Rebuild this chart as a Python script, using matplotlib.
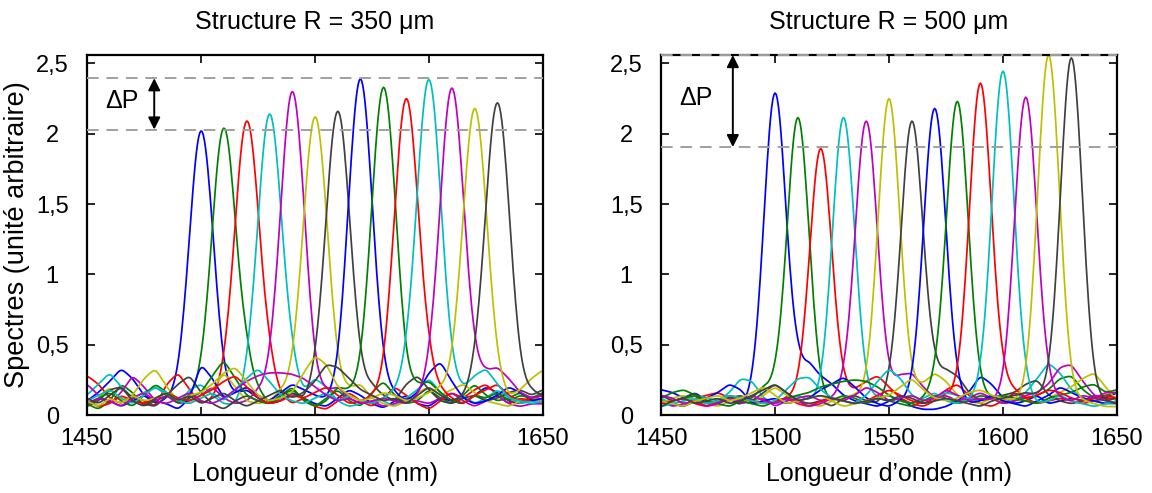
"""
Spectres des structures R = 350 um et R = 500 um, avec l'ecart de puissance dP.
"""

import matplotlib
matplotlib.use("Agg")
import matplotlib.pyplot as plt
import numpy as np

plt.rcParams["font.family"] = ["Liberation Sans", "DejaVu Sans"]

# ---------------------------------------------------------------------------
# Data
# ---------------------------------------------------------------------------

COLORS = ["#0000ff", "#008000", "#ff0000", "#00bfbf", "#bf00bf", "#bfbf00", "#404040"] * 2

PEAK_NM = [1500, 1510, 1520, 1530, 1540, 1550, 1560,
           1570, 1580, 1590, 1600, 1610, 1620, 1630]

PEAKS_350 = [2.02, 2.04, 2.09, 2.14, 2.30, 2.12, 2.16,
             2.39, 2.33, 2.25, 2.385, 2.325, 2.18, 2.22]
PEAKS_500 = [2.29, 2.115, 1.895, 2.115, 2.09, 2.25, 2.09,
             2.18, 2.23, 2.36, 2.445, 2.26, 2.56, 2.54]

# noise floor of each spectrum (hundredths), one value every 5 nm from 1450 to 1650
KNOTS_NM = list(range(1450, 1651, 5))

FLOOR_350 = [
    [10, 16, 24, 33, 26, 14, 8, 10, 6, 4, 10, 12, 8, 14, 18, 12, 8, 10, 16, 12, 8, 6, 12, 18, 14, 8, 5, 10, 14, 8, 6, 12, 10, 8, 14, 20, 16, 10, 8, 12, 10],
    [8, 4, 10, 22, 16, 6, 10, 14, 8, 12, 10, 6, 6, 12, 28, 18, 8, 14, 20, 10, 6, 12, 18, 10, 6, 16, 24, 14, 8, 10, 18, 12, 8, 14, 22, 14, 10, 12, 16, 12, 14],
    [28, 22, 12, 8, 14, 10, 6, 22, 30, 18, 8, 10, 12, 8, 10, 20, 26, 14, 8, 12, 6, 4, 10, 16, 10, 6, 12, 20, 14, 8, 4, 10, 16, 12, 18, 22, 14, 8, 12, 10, 12],
    [14, 22, 30, 20, 12, 16, 20, 14, 8, 18, 22, 14, 8, 6, 10, 8, 12, 18, 24, 16, 26, 20, 10, 6, 8, 14, 10, 6, 12, 18, 26, 16, 10, 14, 8, 12, 18, 12, 8, 10, 8],
    [22, 14, 8, 16, 28, 20, 10, 14, 8, 10, 14, 20, 12, 8, 10, 16, 12, 6, 10, 14, 10, 16, 20, 12, 8, 10, 6, 8, 12, 10, 8, 12, 16, 10, 6, 10, 14, 8, 6, 8, 8],
    [6, 12, 20, 10, 14, 26, 33, 20, 10, 8, 14, 18, 30, 20, 10, 8, 10, 16, 12, 8, 10, 14, 12, 18, 22, 12, 8, 6, 10, 16, 20, 14, 18, 22, 16, 10, 8, 6, 10, 12, 10],
    [6, 10, 18, 20, 12, 8, 6, 14, 22, 28, 16, 8, 4, 10, 14, 10, 8, 12, 16, 10, 12, 8, 6, 10, 14, 20, 14, 10, 22, 28, 18, 10, 8, 12, 14, 10, 12, 16, 18, 14, 18],
    [8, 12, 10, 6, 10, 14, 10, 8, 4, 12, 36, 26, 12, 16, 20, 14, 10, 16, 22, 18, 14, 10, 8, 12, 10, 6, 10, 14, 10, 16, 30, 38, 24, 12, 8, 10, 14, 20, 16, 10, 12],
    [6, 12, 16, 10, 6, 14, 22, 16, 8, 12, 16, 28, 39, 26, 14, 10, 8, 14, 18, 12, 6, 10, 20, 16, 10, 8, 12, 16, 12, 20, 24, 16, 10, 8, 14, 12, 16, 10, 14, 12, 16],
    [10, 6, 8, 14, 10, 8, 12, 16, 12, 10, 14, 18, 24, 28, 20, 12, 8, 10, 14, 12, 16, 20, 14, 8, 10, 12, 8, 10, 14, 18, 24, 18, 12, 8, 14, 18, 22, 14, 10, 12, 14],
    [10, 14, 18, 12, 8, 14, 20, 16, 10, 8, 12, 16, 10, 18, 26, 33, 24, 14, 10, 8, 12, 16, 10, 14, 10, 8, 12, 16, 20, 14, 8, 10, 14, 18, 28, 33, 22, 12, 10, 8, 10],
    [8, 12, 10, 6, 12, 16, 10, 8, 12, 16, 10, 8, 12, 18, 24, 28, 30, 30, 29, 26, 20, 14, 10, 12, 8, 10, 12, 10, 8, 12, 14, 10, 12, 16, 22, 30, 34, 26, 16, 12, 14],
    [10, 6, 12, 8, 14, 10, 12, 16, 10, 14, 16, 22, 30, 34, 24, 14, 10, 12, 16, 30, 42, 36, 20, 14, 10, 12, 16, 14, 10, 12, 16, 18, 14, 12, 18, 20, 16, 12, 18, 26, 32],
    [12, 8, 14, 20, 10, 6, 12, 16, 10, 14, 8, 12, 16, 10, 6, 10, 14, 18, 12, 16, 24, 36, 34, 26, 18, 14, 10, 12, 8, 14, 20, 14, 10, 12, 16, 12, 10, 14, 12, 16, 14],
]

FLOOR_500 = [
    [18, 16, 12, 16, 10, 8, 12, 6, 8, 10, 10, 14, 30, 37, 28, 22, 14, 10, 8, 6, 10, 12, 6, 4, 4, 6, 10, 16, 28, 22, 12, 8, 10, 14, 8, 10, 12, 10, 14, 12, 16],
    [12, 16, 18, 14, 8, 10, 14, 10, 12, 20, 16, 8, 10, 12, 8, 10, 14, 12, 8, 12, 10, 8, 6, 10, 14, 12, 8, 10, 14, 12, 8, 10, 12, 14, 18, 26, 28, 18, 12, 14, 16],
    [10, 8, 6, 12, 14, 16, 12, 10, 8, 10, 8, 12, 10, 8, 10, 12, 14, 18, 24, 28, 20, 12, 8, 6, 10, 18, 22, 14, 8, 6, 10, 16, 12, 8, 10, 12, 10, 8, 10, 12, 12],
    [12, 8, 10, 14, 12, 10, 16, 26, 24, 12, 8, 10, 14, 10, 8, 10, 12, 14, 10, 12, 14, 10, 8, 12, 16, 10, 8, 12, 10, 14, 12, 10, 16, 26, 37, 30, 18, 12, 10, 8, 8],
    [10, 6, 8, 10, 6, 10, 12, 8, 10, 12, 6, 10, 12, 14, 10, 12, 14, 10, 8, 12, 16, 28, 30, 20, 12, 14, 10, 12, 16, 12, 8, 10, 14, 16, 22, 34, 36, 24, 14, 10, 8],
    [8, 12, 14, 10, 8, 6, 10, 12, 8, 14, 20, 14, 10, 8, 6, 10, 12, 14, 10, 12, 16, 12, 14, 22, 30, 24, 14, 10, 8, 12, 10, 12, 10, 8, 12, 16, 20, 26, 30, 20, 10],
    [14, 10, 12, 16, 8, 10, 12, 14, 10, 16, 22, 16, 10, 8, 10, 6, 12, 14, 10, 8, 12, 10, 14, 18, 26, 32, 28, 16, 10, 12, 14, 16, 22, 25, 14, 10, 8, 10, 12, 10, 12],
    [10, 8, 6, 10, 12, 16, 22, 18, 8, 10, 12, 8, 10, 12, 18, 22, 27, 20, 12, 8, 6, 10, 8, 6, 4, 10, 12, 8, 10, 14, 10, 8, 6, 10, 14, 20, 16, 12, 10, 8, 10],
    [8, 10, 12, 14, 10, 8, 6, 10, 8, 6, 10, 12, 14, 16, 20, 22, 24, 25, 24, 20, 14, 10, 8, 12, 16, 12, 10, 8, 10, 12, 14, 12, 10, 8, 12, 14, 16, 20, 22, 16, 18],
    [8, 10, 12, 8, 6, 10, 14, 12, 10, 8, 10, 12, 8, 6, 10, 12, 10, 8, 10, 14, 18, 14, 10, 8, 12, 14, 10, 8, 12, 16, 20, 18, 12, 14, 18, 16, 12, 10, 12, 14, 12],
    [6, 8, 10, 12, 8, 10, 14, 12, 10, 8, 10, 18, 26, 27, 18, 12, 10, 8, 14, 24, 33, 26, 14, 10, 12, 16, 14, 10, 12, 10, 8, 10, 12, 8, 10, 14, 10, 8, 6, 8, 10],
    [14, 12, 8, 10, 6, 8, 12, 10, 14, 10, 8, 12, 10, 6, 8, 12, 10, 14, 20, 16, 10, 12, 14, 10, 12, 18, 14, 10, 12, 10, 8, 12, 10, 12, 14, 12, 10, 14, 12, 16, 16],
    [10, 8, 6, 10, 12, 14, 10, 12, 16, 20, 14, 8, 10, 12, 14, 10, 6, 8, 10, 12, 14, 20, 26, 18, 12, 10, 12, 16, 18, 14, 12, 10, 8, 10, 12, 10, 8, 10, 8, 6, 6],
    [6, 10, 12, 8, 10, 12, 8, 10, 14, 18, 22, 16, 10, 12, 14, 12, 10, 8, 10, 12, 10, 14, 12, 8, 10, 12, 10, 8, 6, 10, 12, 14, 16, 14, 12, 10, 12, 10, 8, 10, 8],
]

# peak width (nm) and the dP markers
SIGMA_350 = 5.3
SIGMA_500 = 4.8
DP_350 = (2.03, 2.395)
DP_500 = (1.905, 2.56)

YTICKS = [0, 0.5, 1, 1.5, 2, 2.5]
YTICK_LABELS = ["0", "0,5", "1", "1,5", "2", "2,5"]
XTICKS = [1450, 1500, 1550, 1600, 1650]


def spectrum(x, floor, center, height, sigma):
    base = np.interp(x, KNOTS_NM, np.array(floor) / 100.0)
    k = np.exp(-0.5 * (np.arange(-6, 7) / 2.0) ** 2)
    k /= k.sum()
    base = np.convolve(np.pad(base, 6, mode="edge"), k, mode="valid")
    amp = height - np.interp(center, x, base)
    return base + amp * np.exp(-0.5 * ((x - center) / sigma) ** 2)


def draw_panel(ax, title, peaks, floors, sigma, dp, arrow_x):
    x = np.arange(1450, 1650.01, 0.5)
    for c, h, fl, col in zip(PEAK_NM, peaks, floors, COLORS):
        ax.plot(x, spectrum(x, fl, c, h, sigma), color=col, lw=1.25)

    for y in dp:
        ax.axhline(y, color="#a0a0a0", lw=1.4, dashes=(6, 4), zorder=5, clip_on=False)
    ax.annotate("", xy=(arrow_x, dp[1]), xytext=(arrow_x, dp[0]),
                arrowprops=dict(arrowstyle="<|-|>", color="black", lw=1.4,
                                mutation_scale=18, shrinkA=0, shrinkB=0))
    ax.text(1465.5, (dp[0] + dp[1]) / 2 + 0.02, "ΔP", fontsize=18,
            ha="center", va="center")

    ax.set_xlim(1450, 1650)
    ax.set_ylim(0, 2.56)
    ax.set_xticks(XTICKS)
    ax.set_yticks(YTICKS)
    ax.set_yticklabels(YTICK_LABELS, ha="center")
    ax.tick_params(direction="in", length=6, width=1.2, labelsize=17,
                   top=True, right=True)
    ax.tick_params(axis="y", pad=25)
    ax.tick_params(axis="x", pad=9)
    for s in ax.spines.values():
        s.set_linewidth(1.6)
    ax.set_title(title, fontsize=18, pad=19)
    ax.set_xlabel("Longueur d\u2019onde (nm)", fontsize=18, labelpad=9)


def main():
    fig = plt.figure(figsize=(11.52, 4.93), dpi=100)
    ax1 = fig.add_axes([0.0755, 0.1582, 0.3958, 0.7302])
    ax2 = fig.add_axes([0.5738, 0.1582, 0.3958, 0.7302])

    draw_panel(ax1, "Structure R = 350 μm", PEAKS_350, FLOOR_350, SIGMA_350, DP_350, 1479.5)
    draw_panel(ax2, "Structure R = 500 μm", PEAKS_500, FLOOR_500, SIGMA_500, DP_500, 1481.5)
    ax1.set_ylabel("Spectres (unité arbitraire)", fontsize=19.5, labelpad=4)

    fig.savefig("out.png", dpi=100)
    plt.close(fig)


if __name__ == "__main__":
    main()
